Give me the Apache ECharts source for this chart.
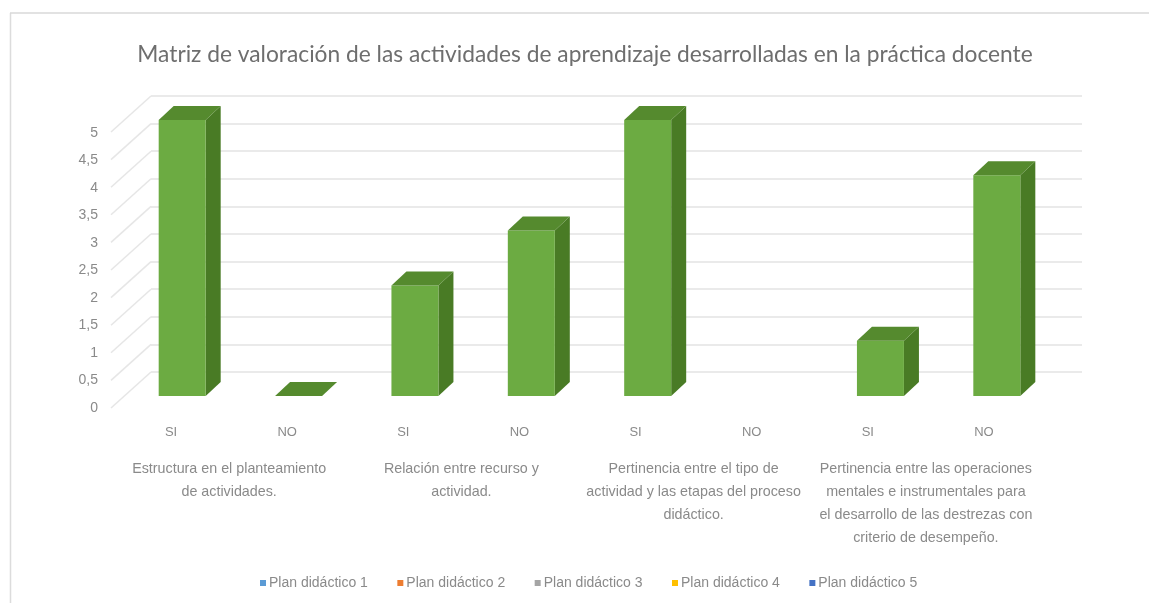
<!DOCTYPE html>
<html>
<head>
<meta charset="utf-8">
<style>
  html, body { margin: 0; padding: 0; background: #fff; }
  #chart { width: 1149px; height: 603px; filter: blur(0.5px); }
</style>
<script src="https://cdn.jsdelivr.net/npm/echarts@6/dist/echarts.min.js"></script>
</head>
<body>
<div id="chart"></div>
<script>
const titleText = 'Matriz de valoración de las actividades de aprendizaje desarrolladas en la práctica docente'
const answers = ['SI', 'NO', 'SI', 'NO', 'SI', 'NO', 'SI', 'NO']
const groups = [
  'Estructura en el planteamiento\nde actividades.',
  'Relación entre recurso y\nactividad.',
  'Pertinencia entre el tipo de\nactividad y las etapas del proceso\ndidáctico.',
  'Pertinencia entre las operaciones\nmentales e instrumentales para\nel desarrollo de las destrezas con\ncriterio de desempeño.',
]
const values = [5, 0, 2, 3, 5, null, 1, 4]
const yTicks = [0, 0.5, 1, 1.5, 2, 2.5, 3, 3.5, 4, 4.5, 5]
const legendNames = ['Plan didáctico 1', 'Plan didáctico 2', 'Plan didáctico 3', 'Plan didáctico 4', 'Plan didáctico 5']
const legendColors = ['#5b9bd5', '#ed7d31', '#a5a5a5', '#ffc000', '#4472c4']

const labelFont = '"Liberation Sans", sans-serif'
const textColor = '#8a8a8a'

// fake 3D: grid 0 is the back wall, grid 1 the front edge of the floor
const wallDx = -40, wallDy = 36
const faceDx = -27, faceDy = 24
const sideDx = 15, sideDy = -14
const halfBar = 23.5

function renderBar(params, api) {
  const v = api.value(1)
  if (isNaN(v)) return
  const top = api.coord([api.value(0), v])
  const base = api.coord([api.value(0), 0])
  const x0 = top[0] + faceDx - halfBar
  const x1 = top[0] + faceDx + halfBar
  const yt = top[1] + faceDy
  const yb = base[1] + faceDy
  const children = []
  if (v > 0) {
    children.push({
      type: 'polygon',
      shape: { points: [[x1, yt], [x1 + sideDx, yt + sideDy], [x1 + sideDx, yb + sideDy], [x1, yb]] },
      style: { fill: '#497b25' },
    })
    children.push({
      type: 'rect',
      shape: { x: x0, y: yt, width: x1 - x0, height: yb - yt },
      style: { fill: '#6cab42' },
    })
  }
  children.push({
    type: 'polygon',
    shape: { points: [[x0, yt], [x1, yt], [x1 + sideDx, yt + sideDy], [x0 + sideDx, yt + sideDy]] },
    style: { fill: '#558a2e' },
  })
  return { type: 'group', children }
}

function renderWallLine(params, api) {
  const y = api.coord([0, api.value(0)])[1]
  const x = params.coordSys.x
  return {
    type: 'line',
    shape: { x1: x + wallDx, y1: y + wallDy, x2: x, y2: y },
    style: { stroke: '#e6e6e6', lineWidth: 1.5 },
  }
}

const chart = echarts.init(document.getElementById('chart'))
chart.setOption({
  animation: false,
  backgroundColor: '#fff',
  title: {
    text: titleText,
    left: 580,
    top: 38,
    textAlign: 'center',
    textStyle: { fontFamily: 'Lato', fontSize: 22.75, fontWeight: 'normal', color: '#6e6e6e' },
  },
  legend: {
    data: legendNames,
    left: 255,
    top: 571,
    icon: 'rect',
    itemWidth: 6,
    itemHeight: 6,
    itemGap: 29.5,
    textStyle: { fontFamily: labelFont, fontSize: 14, color: textColor, padding: [0, 0, 0, -2] },
  },
  grid: [
    { left: 151, top: 96, width: 931, height: 276, outerBoundsMode: 'none' },
    { left: 113, top: 133, width: 929, height: 275, outerBoundsMode: 'none' },
  ],
  xAxis: [
    { type: 'category', gridIndex: 0, data: answers, axisLine: { show: false }, axisTick: { show: false }, axisLabel: { show: false } },
    {
      type: 'category', gridIndex: 1, position: 'bottom', data: answers,
      axisLine: { show: false }, axisTick: { show: false },
      axisLabel: { margin: 18, interval: 0, fontFamily: labelFont, fontSize: 13, color: textColor },
    },
    {
      type: 'category', gridIndex: 1, position: 'bottom', data: groups,
      axisLine: { show: false }, axisTick: { show: false },
      axisLabel: { margin: 50, interval: 0, fontFamily: labelFont, fontSize: 14.3, lineHeight: 23, color: textColor },
    },
  ],
  yAxis: [
    {
      type: 'value', gridIndex: 0, min: 0, max: 5, interval: 0.5,
      axisLine: { show: false }, axisTick: { show: false }, axisLabel: { show: false },
      splitLine: { lineStyle: { color: '#e3e3e3', width: 1.5 } },
    },
    {
      type: 'value', gridIndex: 1, min: 0, max: 5, interval: 0.5,
      axisLine: { show: false }, axisTick: { show: false }, splitLine: { show: false },
      axisLabel: { margin: 15, fontFamily: labelFont, fontSize: 14, color: textColor, formatter: v => String(v).replace('.', ',') },
    },
  ],
  series: [
    { type: 'custom', xAxisIndex: 0, yAxisIndex: 0, silent: true, data: yTicks.map(t => [t]), encode: { y: 0 }, renderItem: renderWallLine, z: 1 },
    { type: 'custom', xAxisIndex: 0, yAxisIndex: 0, silent: true, data: values.map((v, i) => [i, v]), encode: { x: 0, y: 1 }, renderItem: renderBar, z: 3 },
    ...legendNames.map((name, i) => ({ name, type: 'bar', xAxisIndex: 0, yAxisIndex: 0, data: [], itemStyle: { color: legendColors[i] } })),
  ],
  graphic: [
    { type: 'line', shape: { x1: 10.5, y1: 13, x2: 10.5, y2: 603 }, style: { stroke: '#dcdcdc', lineWidth: 1.5 } },
    { type: 'line', shape: { x1: 10, y1: 13, x2: 1149, y2: 13 }, style: { stroke: '#d9d9d9', lineWidth: 1.5 } },
  ],
})
</script>
</body>
</html>
